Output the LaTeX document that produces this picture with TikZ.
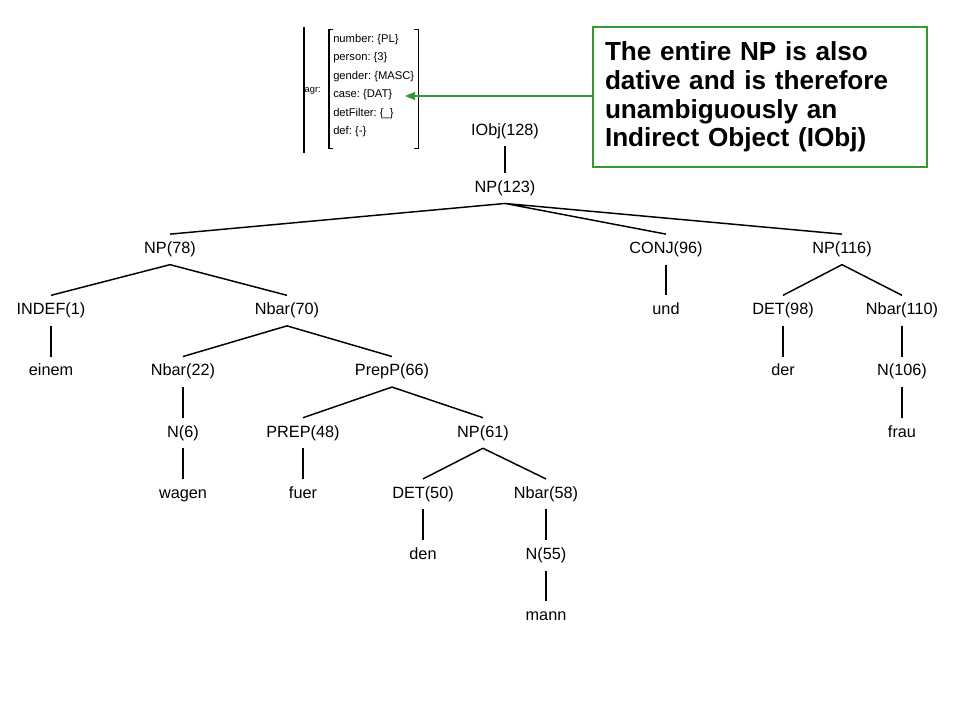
\documentclass[tikz,border=0pt]{standalone}
\usepackage{fontspec}
\setmainfont{Liberation Sans}
\usetikzlibrary{arrows.meta, positioning}
\definecolor{notegreen}{HTML}{339933}

\begin{document}
\begin{tikzpicture}[x=0.75pt, y=-0.75pt,
          cat/.style={minimum height=22.5pt, inner sep=0pt,
                      text height=8.8pt, text depth=2.6pt,
                      font=\fontsize{12.2}{14}\selectfont},
          feat/.style={inner sep=0pt, font=\frenchspacing\fontsize{8.4}{13.9}\selectfont},
          edge/.style={line width=1.1pt},
          bar/.style={line width=0.8pt},
          note/.style={draw=notegreen, line width=0.8pt, align=left,
                       text width=232.5pt, minimum height=105pt, inner xsep=9pt,
                       font=\bfseries\fontsize{19.6}{21.5}\selectfont},
          arr/.style={-{Triangle[length=7.5pt, width=6pt]}, notegreen, line width=0.9pt},
        ]
        \useasboundingbox (0,0) rectangle (960,720);

        \node[feat, anchor=north west, align=left,
              inner xsep=3pt, inner ysep=3.3pt] (feats) at (329,29.3)
              {number: \{PL\}\\person: \{3\}\\gender: \{MASC\}\\case: \{DAT\}\\
               detFilter: \{\_\}\\def: \{-\}\rule[-7pt]{0pt}{0pt}};
        \node[feat, font=\fontsize{7}{9}\selectfont, left=6pt of feats, yshift=-1.5pt] (agr) {agr:};
        \draw[bar] ([xshift=3pt]feats.north west) -| (feats.south west) -- ++(3pt,0);
        \draw[bar] ([xshift=-3pt]feats.north east) -| (feats.south east) -- ++(-3pt,0);
        \draw[bar] (304,27) -- (304,153);

        \node[note] (note) at (760,97)
              {The entire NP is also\\dative and is therefore\\unambiguously an\\Indirect Object (IObj)};
        \coordinate (casetip) at (405,96);
        \draw[arr] (note.west |- casetip) -- (casetip);

        \node[cat] (iobj) at (505,131) {IObj(128)};
        \node[cat, below=20pt of iobj] (np123) {NP(123)};
        \node[cat, below=23pt of np123, xshift=-251.25pt] (np78) {NP(78)};
        \node[cat, below=23pt of np123, xshift=120.75pt] (conj96) {CONJ(96)};
        \node[cat, below=23pt of np123, xshift=252.75pt] (np116) {NP(116)};
        \node[cat, below=23pt of np78, xshift=-89.25pt] (indef1) {INDEF(1)};
        \node[cat, below=23pt of np78, xshift=87.75pt] (nbar70) {Nbar(70)};
        \node[cat, below=23pt of conj96] (und) {und};
        \node[cat, below=23pt of np116, xshift=-44.25pt] (det98) {DET(98)};
        \node[cat, below=23pt of np116, xshift=45pt] (nbar110) {Nbar(110)};
        \node[cat, below=23pt of indef1] (einem) {einem};
        \node[cat, below=23pt of nbar70, xshift=-78pt] (nbar22) {Nbar(22)};
        \node[cat, below=23pt of nbar70, xshift=78.75pt] (prepp66) {PrepP(66)};
        \node[cat, below=23pt of det98] (der) {der};
        \node[cat, below=23pt of nbar110] (n106) {N(106)};
        \node[cat, below=23pt of n106] (frau) {frau};
        \node[cat, below=23pt of nbar22] (n6) {N(6)};
        \node[cat, below=23pt of n6] (wagen) {wagen};
        \node[cat, below=23pt of prepp66, xshift=-66.75pt] (prep48) {PREP(48)};
        \node[cat, below=23pt of prepp66, xshift=68.25pt] (np61) {NP(61)};
        \node[cat, below=23pt of prep48] (fuer) {fuer};
        \node[cat, below=23pt of np61, xshift=-45pt] (det50) {DET(50)};
        \node[cat, below=23pt of np61, xshift=47.25pt] (nbar58) {Nbar(58)};
        \node[cat, below=23pt of det50] (den) {den};
        \node[cat, below=23pt of nbar58] (n55) {N(55)};
        \node[cat, below=23pt of n55] (mann) {mann};

        \draw[edge] (iobj.south) -- (np123.north);
        \draw[edge] (np123.south) -- (np78.north) (np123.south) -- (conj96.north)
                    (np123.south) -- (np116.north);
        \draw[edge] (np78.south) -- (indef1.north) (np78.south) -- (nbar70.north);
        \draw[edge] (conj96.south) -- (und.north);
        \draw[edge] (np116.south) -- (det98.north) (np116.south) -- (nbar110.north);
        \draw[edge] (indef1.south) -- (einem.north);
        \draw[edge] (nbar70.south) -- (nbar22.north) (nbar70.south) -- (prepp66.north);
        \draw[edge] (det98.south) -- (der.north);
        \draw[edge] (nbar110.south) -- (n106.north);
        \draw[edge] (n106.south) -- (frau.north);
        \draw[edge] (nbar22.south) -- (n6.north);
        \draw[edge] (n6.south) -- (wagen.north);
        \draw[edge] (prepp66.south) -- (prep48.north) (prepp66.south) -- (np61.north);
        \draw[edge] (prep48.south) -- (fuer.north);
        \draw[edge] (np61.south) -- (det50.north) (np61.south) -- (nbar58.north);
        \draw[edge] (det50.south) -- (den.north);
        \draw[edge] (nbar58.south) -- (n55.north);
        \draw[edge] (n55.south) -- (mann.north);
      \end{tikzpicture}
\end{document}
